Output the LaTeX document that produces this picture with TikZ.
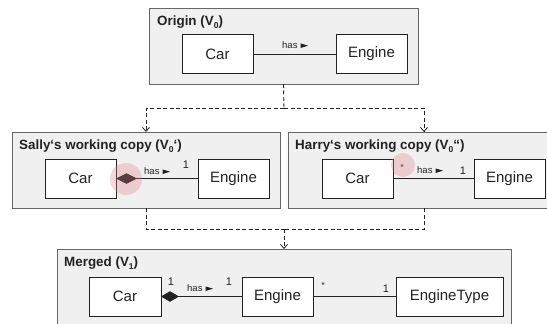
\documentclass[tikz,border=0pt]{standalone}
\usepackage{fontspec}
\setmainfont{Liberation Sans}
\usetikzlibrary{arrows.meta}

\definecolor{ink}{HTML}{222222}
\definecolor{panelfill}{HTML}{F0F0F0}
\definecolor{panelline}{HTML}{666666}
\definecolor{spot}{HTML}{E27A84}

% version symbol with a lowered index
\newcommand\vers[1]{V\raisebox{-0.4ex}{\fontsize{8.5}{9}\selectfont #1}}
% association name with its reading direction
\newcommand\hasdir{has\hspace{3pt}\tikz[baseline=0pt]\fill[ink] (0pt,0pt) -- (7.5pt,2.3pt) -- (0pt,4.6pt) -- cycle;}

\begin{document}
\begin{tikzpicture}[x=1pt,y=-1pt,
  panel/.style={draw=panelline, fill=panelfill, line width=0.9pt, inner sep=0pt, outer sep=0pt, minimum height=76pt},
  title/.style={anchor=base west, inner sep=0pt, text=ink, font=\fontsize{13.4}{15}\selectfont\bfseries},
  cls/.style={draw=ink, fill=white, line width=0.9pt, inner sep=0pt, outer sep=0pt, minimum width=71pt, minimum height=39pt, text=ink, font=\fontsize{15}{18}\selectfont},
  assoc/.style={draw=ink, line width=0.9pt},
  comp/.style={assoc, {Diamond[length=#1,width=10.5pt]}-},
  lbl/.style={inner sep=0pt, text=ink, font=\fontsize{9.5}{11}\selectfont},
  mult/.style={inner sep=0pt, text=ink, font=\fontsize{11}{13}\selectfont},
  star/.style={inner sep=0pt, text=ink, font=\fontsize{9}{10}\selectfont},
  flow/.style={draw=ink, line width=0.9pt, dash pattern=on 4pt off 2.5pt},
  vtip/.style={-{Straight Barb[length=4pt,width=7pt,line width=0.8pt]}},
  spotmark/.style={fill=spot, fill opacity=0.3, draw=none}
]
\useasboundingbox (0,0) rectangle (547,324);
\clip (0,0) rectangle (547,324);

% ---- original model ----
\node[panel, minimum width=269pt] (origin) at (283.5,46) {};
\node[title] (originT) at (157,26) {Origin (\vers{0})};
\node[cls] (oCar) at (217.5,54) {Car};
\node[cls] (oEngine) at (371.5,54) {Engine};
\draw[assoc] (oCar.east) -- (oEngine.west);
\node[lbl, anchor=base west] (oHas) at (282,48) {\hasdir};

% ---- Sally's copy ----
\node[panel, minimum width=268pt] (sally) at (146,170) {};
\node[title] (sallyT) at (19,149.5) {Sally‘s working copy (\vers{0}‘)};
\node[cls] (sCar) at (80.5,178.5) {Car};
\node[cls] (sEngine) at (233.5,178.5) {Engine};
\draw[comp=21pt, fill=ink] (sCar.east) -- (sEngine.west);
\node[lbl, anchor=base west] (sHas) at (144,174) {\hasdir};
\node[mult, anchor=base] (sOne) at (186,168) {1};
\fill[spotmark] (126,179) circle (16);

% ---- Harry's copy ----
\node[panel, minimum width=272pt] (harry) at (424,170) {};
\node[title] (harryT) at (295,149.5) {Harry‘s working copy (\vers{0}“)};
\node[cls] (hCar) at (357.5,178.5) {Car};
\node[cls] (hEngine) at (509.5,178.5) {Engine};
\draw[assoc] (hCar.east) -- (hEngine.west);
\node[star] (hStar) at (402,167) {*};
\node[lbl, anchor=base west] (hHas) at (417,173) {\hasdir};
\node[mult, anchor=base] (hOne) at (463,174.5) {1};
\fill[spotmark] (403,165) circle (12);

% ---- merged model ----
\node[panel, minimum width=454pt, minimum height=96pt] (merged) at (284,297) {};
\node[title] (mergedT) at (64,266.5) {Merged (\vers{1})};
\node[cls, minimum width=72pt] (mCar) at (125,296.5) {Car};
\node[cls] (mEngine) at (277.5,296.5) {Engine};
\node[cls, minimum width=107pt] (mType) at (449.5,296.5) {EngineType};
\draw[comp=18pt, fill=black] (mCar.east) -- (mEngine.west);
\node[mult, anchor=base] (mOneA) at (171,285) {1};
\node[lbl, anchor=base west] (mHas) at (187,291) {\hasdir};
\node[mult, anchor=base] (mOneB) at (229,285) {1};
\draw[assoc] (mEngine.east) -- (mType.west);
\node[star] (mStar) at (323,285) {*};
\node[mult, anchor=base] (mOneC) at (386,292.5) {1};

% ---- version flow ----
\coordinate (fork) at (284,108);
\coordinate (join) at (284,229);
\draw[flow] (origin.south) -- (fork);
\draw[flow, vtip] (fork) -| (sally.north);
\draw[flow, vtip] (fork) -| (harry.north);
\draw[flow] (sally.south) |- (join);
\draw[flow] (harry.south) |- (join);
\draw[flow, vtip] (join) -- (merged.north);
\end{tikzpicture}
\end{document}
